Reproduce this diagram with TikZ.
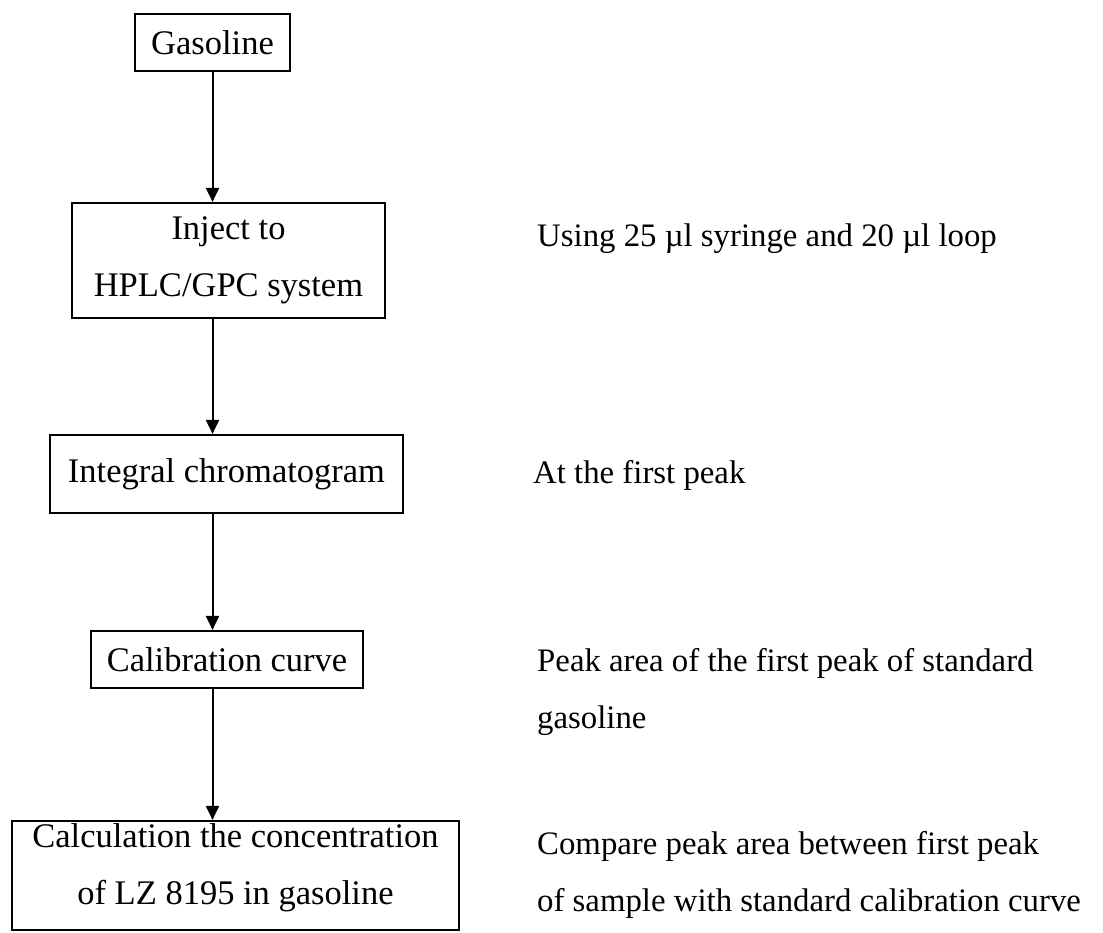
\documentclass[tikz,border=0pt]{standalone}
\usepackage{fontspec}
\setmainfont{Liberation Serif}
\usetikzlibrary{arrows.meta}
\begin{document}
\begin{tikzpicture}[x=1pt,y=-1pt,
  box/.style={draw=black, line width=2.2pt, rectangle, inner sep=0pt, align=center, font=\fontsize{34.5}{57}\selectfont},
  note/.style={inner sep=0pt, align=left, font=\fontsize{32.8}{57.5}\selectfont},
  flow/.style={line width=2pt, -{Triangle[length=14pt,width=13pt]}}]
\useasboundingbox (0,0) rectangle (1103,932);
% boxes
\node[box, minimum width=155pt, minimum height=57pt] (g) at (212.5,42.5) {Gasoline};
\node[box, minimum width=313pt, minimum height=115pt] (inj) at (228.5,260.5) {Inject to\\HPLC/GPC system};
\node[box, minimum width=353pt, minimum height=78pt] (int) at (226.5,474) {Integral chromatogram};
\node[box, minimum width=272pt, minimum height=57pt] (cal) at (227,659.5) {Calibration curve};
\node[box, minimum width=447pt, minimum height=109pt] (calc) at (235.5,875.5) {};
\node[inner sep=0pt, align=center, anchor=north, font=\fontsize{34.5}{57}\selectfont] (calct) at ([yshift=-3pt]calc.north) {Calculation the concentration\\of LZ 8195 in gasoline};
% arrows
\draw[flow] (g.south) -- (g.south |- inj.north);
\draw[flow] (inj.south -| g.south) -- (int.north -| g.south);
\draw[flow] (int.south -| g.south) -- (cal.north -| g.south);
\draw[flow] (cal.south -| g.south) -- (calc.north -| g.south);
% notes
\node[note, anchor=base west] (n1) at (537,246) {Using 25 µl syringe and 20 µl loop};
\node[note, anchor=base west] (n2) at (533,483) {At the first peak};
\node[note, anchor=north west] (n3) at (537,648) {Peak area of the first peak of standard\\gasoline};
\node[note, anchor=north west] (n4) at (537,831) {Compare peak area between first peak\\of sample with standard calibration curve};
\end{tikzpicture}
\end{document}
